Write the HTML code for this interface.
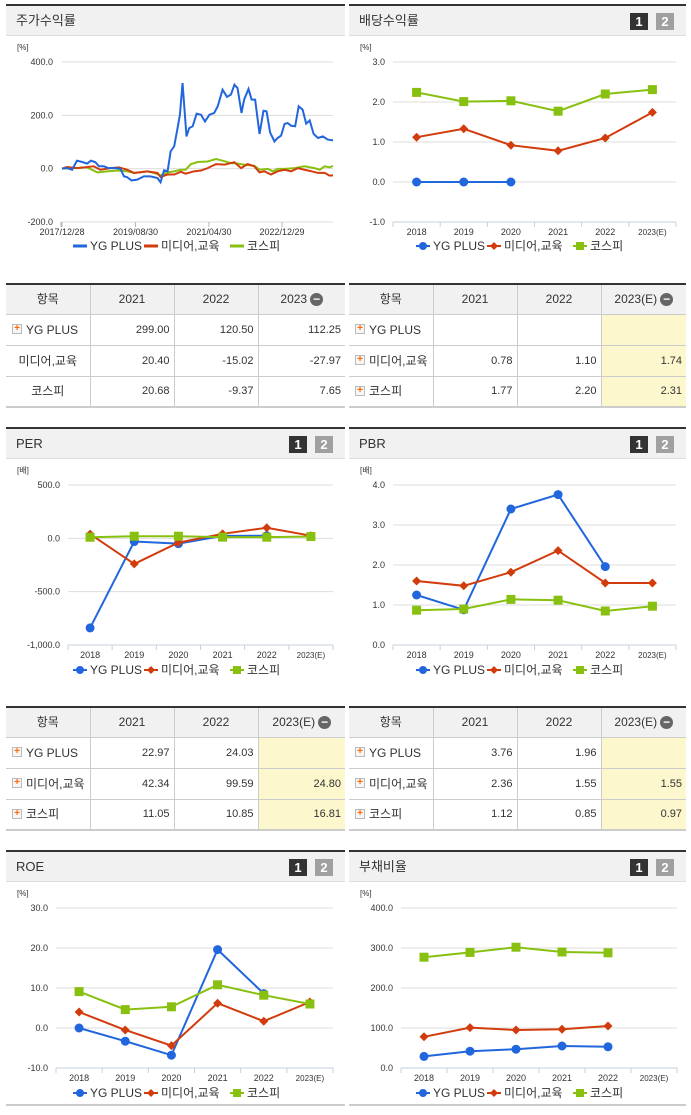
<!DOCTYPE html>
<html><head><meta charset="utf-8">
<style>
*{margin:0;padding:0;box-sizing:border-box}
body{width:691px;height:1115px;background:#fff;position:relative;overflow:hidden;font-family:"Liberation Sans","Noto Sans CJK KR",sans-serif;color:#333}
.panel{position:absolute;border-top:2px solid #333}
.hdr{height:30px;background:#f1f1f1;border-bottom:1px solid #ddd;font-size:13px;line-height:30px;padding-left:10px;color:#333;position:relative}
.btn{position:absolute;top:7px;width:18px;height:17px;color:#fff;font-weight:bold;font-size:13px;line-height:17px;text-align:center}
.b1{right:38px;background:#333}.b2{right:12px;background:#a0a0a0}
table{position:absolute;border-collapse:collapse;border-top:2px solid #333;border-bottom:2px solid #ccc;font-size:11px}
th{background:#f1f1f1;font-weight:normal;height:30px;border:1px solid #ccc;border-top:none;font-size:12px;vertical-align:middle;line-height:14px}
td{height:31px;border:1px solid #ccc;text-align:right;padding-right:4px;vertical-align:middle;line-height:14px}
th:first-child,td:first-child{border-left:none}
th:last-child,td:last-child{border-right:none}
td.n{text-align:left;padding-left:6px;font-size:12px}
td.c{text-align:center;padding:0;font-size:12px}
.hl{background:#fcf7cc}
.plus{display:inline-block;width:10px;height:10px;border:1px solid #bbb;background:#f6f6f6;color:#f60;font-size:10px;line-height:8px;text-align:center;font-weight:bold;vertical-align:middle;margin-right:4px;margin-top:-2px}
.minus{display:inline-block;width:13px;height:13px;border-radius:50%;background:#666;color:#fff;line-height:12px;font-size:12px;text-align:center;font-weight:bold;vertical-align:middle;margin-left:3px;margin-top:-2px}
svg{position:absolute;left:0;top:0}
svg text{font-family:"Liberation Sans","Noto Sans CJK KR",sans-serif}
</style></head><body>

<div class="panel" style="left:6px;top:4px;width:339px"><div class="hdr">주가수익률</div></div>
<div class="panel" style="left:349px;top:4px;width:337px"><div class="hdr">배당수익률<span class="btn b1">1</span><span class="btn b2">2</span></div></div>
<div class="panel" style="left:6px;top:427px;width:339px"><div class="hdr">PER<span class="btn b1">1</span><span class="btn b2">2</span></div></div>
<div class="panel" style="left:349px;top:427px;width:337px"><div class="hdr">PBR<span class="btn b1">1</span><span class="btn b2">2</span></div></div>
<div class="panel" style="left:6px;top:850px;width:339px"><div class="hdr">ROE<span class="btn b1">1</span><span class="btn b2">2</span></div></div>
<div class="panel" style="left:349px;top:850px;width:337px"><div class="hdr">부채비율<span class="btn b1">1</span><span class="btn b2">2</span></div></div>
<div style="position:absolute;left:6px;top:1104px;width:339px;height:2px;background:#ccc"></div>
<div style="position:absolute;left:349px;top:1104px;width:337px;height:2px;background:#ccc"></div>

<table style="left:6px;top:283px;width:339px">
<tr><th style="width:84px">항목</th><th style="width:84px">2021</th><th style="width:84px">2022</th><th>2023<span class="minus">−</span></th></tr>
<tr><td class="n"><span class="plus">+</span>YG PLUS</td><td>299.00</td><td>120.50</td><td>112.25</td></tr>
<tr><td class="c">미디어,교육</td><td>20.40</td><td>-15.02</td><td>-27.97</td></tr>
<tr><td class="c">코스피</td><td>20.68</td><td>-9.37</td><td>7.65</td></tr>
</table>
<table style="left:349px;top:283px;width:337px">
<tr><th style="width:84px">항목</th><th style="width:84px">2021</th><th style="width:84px">2022</th><th>2023(E)<span class="minus">−</span></th></tr>
<tr><td class="n"><span class="plus">+</span>YG PLUS</td><td></td><td></td><td class="hl"></td></tr>
<tr><td class="n"><span class="plus">+</span>미디어,교육</td><td>0.78</td><td>1.10</td><td class="hl">1.74</td></tr>
<tr><td class="n"><span class="plus">+</span>코스피</td><td>1.77</td><td>2.20</td><td class="hl">2.31</td></tr>
</table>
<table style="left:6px;top:706px;width:339px">
<tr><th style="width:84px">항목</th><th style="width:84px">2021</th><th style="width:84px">2022</th><th>2023(E)<span class="minus">−</span></th></tr>
<tr><td class="n"><span class="plus">+</span>YG PLUS</td><td>22.97</td><td>24.03</td><td class="hl"></td></tr>
<tr><td class="n"><span class="plus">+</span>미디어,교육</td><td>42.34</td><td>99.59</td><td class="hl">24.80</td></tr>
<tr><td class="n"><span class="plus">+</span>코스피</td><td>11.05</td><td>10.85</td><td class="hl">16.81</td></tr>
</table>
<table style="left:349px;top:706px;width:337px">
<tr><th style="width:84px">항목</th><th style="width:84px">2021</th><th style="width:84px">2022</th><th>2023(E)<span class="minus">−</span></th></tr>
<tr><td class="n"><span class="plus">+</span>YG PLUS</td><td>3.76</td><td>1.96</td><td class="hl"></td></tr>
<tr><td class="n"><span class="plus">+</span>미디어,교육</td><td>2.36</td><td>1.55</td><td class="hl">1.55</td></tr>
<tr><td class="n"><span class="plus">+</span>코스피</td><td>1.12</td><td>0.85</td><td class="hl">0.97</td></tr>
</table>

<svg id="s" width="691" height="1115"></svg>

<script>
// ---- stock return (time series) ----
const ygDates=[2017.99,2018.10,2018.22,2018.33,2018.45,2018.56,2018.65,2018.75,2018.83,2018.94,2019.05,2019.21,2019.32,2019.40,2019.47,2019.57,2019.70,2019.85,2020.00,2020.16,2020.23,2020.31,2020.39,2020.46,2020.54,2020.61,2020.67,2020.73,2020.82,2020.88,2020.96,2021.05,2021.15,2021.24,2021.34,2021.45,2021.53,2021.64,2021.74,2021.83,2021.91,2021.98,2022.07,2022.13,2022.23,2022.30,2022.38,2022.48,2022.57,2022.64,2022.72,2022.82,2022.89,2022.97,2023.05,2023.12,2023.20,2023.29,2023.37,2023.46,2023.54,2023.62,2023.71,2023.81,2023.92,2024.03,2024.15];
const ygReturn=[0,2.5,-4,30,25,19,30,24,9,9,2,2,-1,-29,-32,-44,-41,-29,-29,-35,-51,-6,-10,65,84,146,202,321,121,152,159,206,202,177,202,209,234,296,269,278,315,302,209,259,299,259,259,130,217,215,136,102,115,124,168,171,161,159,234,221,169,181,130,115,121,109,106];
const mediaDates=[2017.99,2018.10,2018.33,2018.56,2018.71,2018.86,2019.09,2019.28,2019.47,2019.63,2019.93,2020.16,2020.23,2020.39,2020.54,2020.69,2020.80,2020.99,2021.15,2021.30,2021.49,2021.68,2021.91,2022.06,2022.21,2022.36,2022.48,2022.59,2022.74,2022.89,2023.05,2023.20,2023.35,2023.50,2023.66,2023.81,2023.96,2024.07,2024.15];
const mediaReturn=[0,6,2,6,9,-4,2,5,-4,-16,-10,-16,-31,-22,-22,-12,-19,-10,-7,2,17,15,24,2,17,9,-14,-10,-22,-10,-4,-10,2,-4,-10,-16,-16,-26,-25];
const kospiDates=[2017.99,2018.26,2018.56,2018.79,2019.02,2019.24,2019.47,2019.63,2019.93,2020.08,2020.23,2020.39,2020.54,2020.69,2020.80,2020.92,2021.07,2021.30,2021.49,2021.64,2021.83,2021.98,2022.13,2022.36,2022.48,2022.67,2022.78,2022.89,2023.05,2023.28,2023.50,2023.73,2023.85,2023.96,2024.07,2024.15];
const kospiReturn=[0,2,5,-14,-10,-7,-10,-16,-10,-16,-25,-14,-10,-4,-4,17,25,27,36,30,21,19,15,11,-4,-1,-10,-1,-1,2,9,2,-4,9,5,10];
const stockYTicks=[400,200,0,-200];
const stockXTicks=[[2017.99,"2017/12/28"],[2019.66,"2019/08/30"],[2021.33,"2021/04/30"],[2022.99,"2022/12/29"]];

// ---- annual category charts ----
const years=["2018","2019","2020","2021","2022","2023(E)"];
const divYG=[0,0,0,null,null,null];
const divMedia=[1.12,1.33,0.92,0.78,1.10,1.74];
const divKospi=[2.24,2.01,2.03,1.77,2.20,2.31];
const divTicks=[3,2,1,0,-1];
const perYG=[-840,-30,-50,22.97,24.03,null];
const perMedia=[40,-240,-40,42.34,99.59,24.80];
const perKospi=[10,20,20,11.05,10.85,16.81];
const perTicks=[500,0,-500,-1000];
const perTickLabels=["500.0","0.0","-500.0","-1,000.0"];
const pbrYG=[1.25,0.88,3.4,3.76,1.96,null];
const pbrMedia=[1.6,1.48,1.82,2.36,1.55,1.55];
const pbrKospi=[0.87,0.9,1.14,1.12,0.85,0.97];
const pbrTicks=[4,3,2,1,0];
const roeYG=[0,-3.3,-6.8,19.6,8.6,null];
const roeMedia=[4.0,-0.5,-4.4,6.2,1.7,6.5];
const roeKospi=[9.1,4.6,5.3,10.8,8.2,6.0];
const roeTicks=[30,20,10,0,-10];
const debtYG=[29,42,47,55,53,null];
const debtMedia=[78,101,95,97,105,null];
const debtKospi=[277,289,302,290,288,null];
const debtTicks=[400,300,200,100,0];

const C={yg:"#2266dd",md:"#d23c0c",ks:"#88c010"};
const svg=document.getElementById('s');
const NS="http://www.w3.org/2000/svg";
function mk(tag,at,parent){const e=document.createElementNS(NS,tag);for(const k in at)e.setAttribute(k,at[k]);(parent||svg).appendChild(e);return e;}
function txt(x,y,s,at){const t=mk('text',Object.assign({x:x,y:y,'font-size':9,fill:'#333'},at||{}));t.textContent=s;return t;}

function legend(px,y,lines){
  const g=mk('g',{});
  
  
  const items=[[px+74,"YG PLUS",C.yg,'c'],[px+145,"미디어,교육",C.md,'d'],[px+231,"코스피",C.ks,'s']];
  items.forEach(it=>{
    const [x,label,col,shape]=it;
    const e=mk('g',{},g);
    
    
    mk('line',{x1:x-7,y1:y,x2:x+7,y2:y,stroke:col,'stroke-width':lines?3:2},e);
    if(!lines){
      if(shape==='c')mk('circle',{cx:x,cy:y,r:4,fill:col},e);
      if(shape==='d')mk('polygon',{points:`${x},${y-4} ${x+4},${y} ${x},${y+4} ${x-4},${y}`,fill:col},e);
      if(shape==='s')mk('rect',{x:x-4,y:y-4,width:8,height:8,fill:col},e);
    }
    txt(x+10,y+4,label,{'font-size':12});
  });
}

// stock chart
(function(){
  const x0=62,x1=333,top=62,bot=222,vMax=400,vMin=-200;
  const X=d=>x0+(d-2017.99)*(x1-x0)/(2024.15-2017.99);
  const Y=v=>top+(vMax-v)*(bot-top)/(vMax-vMin);
  txt(17,50,"[%]",{'font-size':8});
  stockYTicks.forEach(v=>{
    const l=mk('line',{x1:x0,x2:x1,y1:Y(v),y2:Y(v),stroke:'#ddd'});
    
    
    txt(53,Y(v)+3,v.toFixed(1),{'text-anchor':'end'});
  });
  mk('line',{x1:x0-1,x2:x0-1,y1:bot,y2:bot+5,stroke:'#aab8c8'});
  stockXTicks.forEach(t=>{
    mk('line',{x1:X(t[0]),x2:X(t[0]),y1:bot,y2:bot+5,stroke:'#aab8c8'});
    txt(X(t[0]),bot+13,t[1],{'text-anchor':'middle'});
  });
  [[kospiDates,kospiReturn,C.ks,'kospi-line'],[mediaDates,mediaReturn,C.md,'media-line'],[ygDates,ygReturn,C.yg,'yg-plus-line']].forEach(s=>{
    const p=mk('polyline',{points:s[0].map((d,i)=>X(d)+','+Y(s[1][i])).join(' '),fill:'none',stroke:s[2],'stroke-width':2});
    
    
  });
  legend(6,246,true);
})();

function catChart(o){
  const {x0,x1,top,bot,ticks,labels,unit,series,px,legendY}=o;
  const vMax=ticks[0],vMin=ticks[ticks.length-1];
  const w=(x1-x0)/years.length;
  const X=i=>x0+w*(i+0.5);
  const Y=v=>top+(vMax-v)*(bot-top)/(vMax-vMin);
  txt(px+11,top-12,unit,{'font-size':8});
  ticks.forEach((v,i)=>{
    if(v!==vMin){const l=mk('line',{x1:x0,x2:x1,y1:Y(v),y2:Y(v),stroke:'#ddd'});
    
    }
    txt(x0-8,Y(v)+3,labels?labels[i]:v.toFixed(1),{'text-anchor':'end'});
  });
  mk('line',{x1:x0,x2:x1,y1:bot,y2:bot,stroke:'#c4d0de'});
  for(let i=0;i<=years.length;i++)mk('line',{x1:x0+w*i,x2:x0+w*i,y1:bot,y2:bot+5,stroke:'#c4d0de'});
  years.forEach((y,i)=>txt(X(i),bot+13,y,{'text-anchor':'middle','font-size':y.length>4?8:9}));
  series.forEach(s=>{
    const [vals,col,shape,name]=s;
    const g=mk('g',{});
    
    
    let seg=[];
    const segs=[];
    vals.forEach((v,i)=>{if(v===null){if(seg.length)segs.push(seg);seg=[];}else seg.push([X(i),Y(v)]);});
    if(seg.length)segs.push(seg);
    segs.forEach(sg=>mk('polyline',{points:sg.map(p=>p.join(',')).join(' '),fill:'none',stroke:col,'stroke-width':2},g));
    vals.forEach((v,i)=>{
      if(v===null)return;
      const x=X(i),y=Y(v);
      let m;
      if(shape==='c')m=mk('circle',{cx:x,cy:y,r:4.5,fill:col},g);
      else if(shape==='d')m=mk('polygon',{points:`${x},${y-4.5} ${x+4.5},${y} ${x},${y+4.5} ${x-4.5},${y}`,fill:col},g);
      else m=mk('rect',{x:x-4.5,y:y-4.5,width:9,height:9,fill:col},g);
      
      
    });
  });
  legend(px,legendY,false);
}
catChart({x0:393,x1:676,top:62,bot:222,ticks:divTicks,unit:"[%]",px:349,legendY:246,
  series:[[divKospi,C.ks,'s','kospi-series'],[divMedia,C.md,'d','media-series'],[divYG,C.yg,'c','yg-plus-series']]});
catChart({x0:68,x1:333,top:485,bot:645,ticks:perTicks,labels:perTickLabels,unit:"[배]",px:6,legendY:670,
  series:[[perYG,C.yg,'c','yg-plus-series'],[perMedia,C.md,'d','media-series'],[perKospi,C.ks,'s','kospi-series']]});
catChart({x0:393,x1:676,top:485,bot:645,ticks:pbrTicks,unit:"[배]",px:349,legendY:670,
  series:[[pbrYG,C.yg,'c','yg-plus-series'],[pbrMedia,C.md,'d','media-series'],[pbrKospi,C.ks,'s','kospi-series']]});
catChart({x0:56,x1:333,top:908,bot:1068,ticks:roeTicks,unit:"[%]",px:6,legendY:1093,
  series:[[roeYG,C.yg,'c','yg-plus-series'],[roeMedia,C.md,'d','media-series'],[roeKospi,C.ks,'s','kospi-series']]});
catChart({x0:401,x1:677,top:908,bot:1068,ticks:debtTicks,unit:"[%]",px:349,legendY:1093,
  series:[[debtKospi,C.ks,'s','kospi-series'],[debtMedia,C.md,'d','media-series'],[debtYG,C.yg,'c','yg-plus-series']]});
</script>
</body></html>
